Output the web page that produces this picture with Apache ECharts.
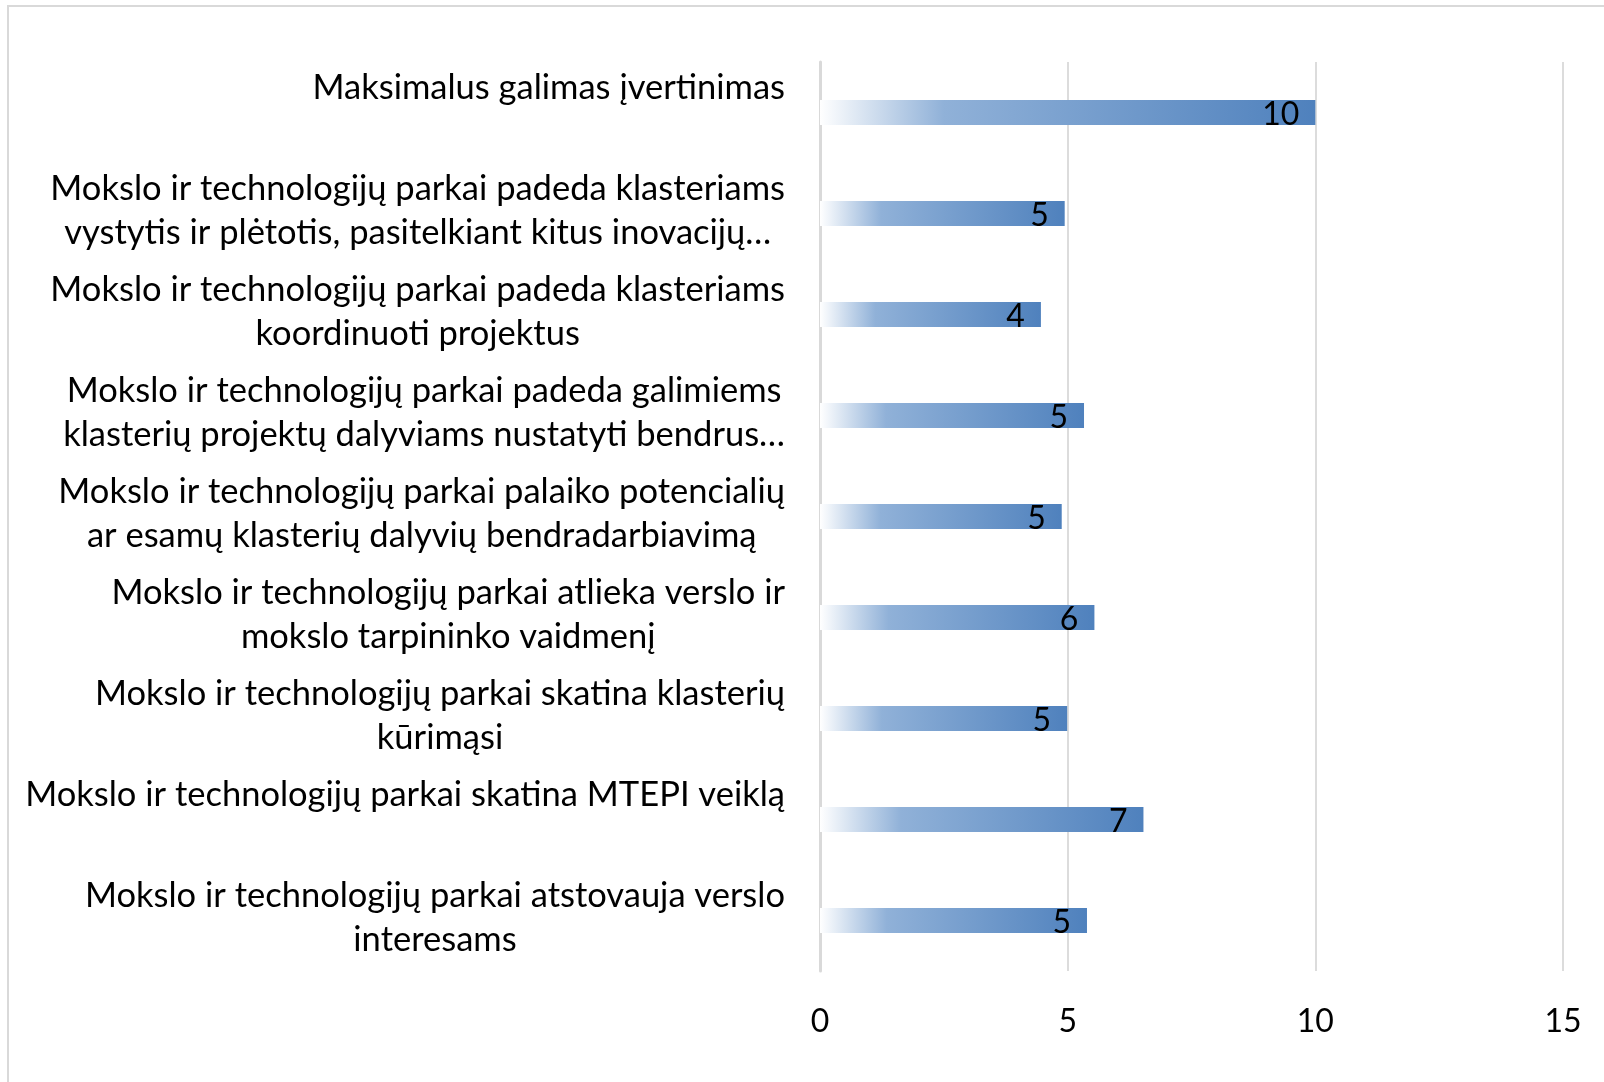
<!DOCTYPE html>
<html>
<head>
<meta charset="utf-8">
<script src="https://cdn.jsdelivr.net/npm/echarts@6/dist/echarts.min.js"></script>
<style>
html,body{margin:0;padding:0;background:#fff;}
#chart{width:1604px;height:1082px;}
</style>
</head>
<body>
<div id="chart"></div>
<script>
var categories = [
  "Maksimalus galimas įvertinimas",
  "Mokslo ir technologijų parkai padeda klasteriams\nvystytis ir plėtotis, pasitelkiant kitus inovacijų…",
  "Mokslo ir technologijų parkai padeda klasteriams\nkoordinuoti projektus",
  "Mokslo ir technologijų parkai padeda galimiems\nklasterių projektų dalyviams nustatyti bendrus…",
  "Mokslo ir technologijų parkai palaiko potencialių\nar esamų klasterių dalyvių bendradarbiavimą",
  "Mokslo ir technologijų parkai atlieka verslo ir\nmokslo tarpininko vaidmenį",
  "Mokslo ir technologijų parkai skatina klasterių\nkūrimąsi",
  "Mokslo ir technologijų parkai skatina MTEPI veiklą",
  "Mokslo ir technologijų parkai atstovauja verslo\ninteresams"
];
var values = [10, 4.94, 4.46, 5.33, 4.88, 5.54, 4.99, 6.53, 5.39];
var xTicks = [0, 5, 10, 15];

var FONT = 'Lato';
var FS_CAT = 34.5;
var FS = 32;

var chart = echarts.init(document.getElementById('chart'));
chart.setOption({
  backgroundColor: '#ffffff',
  animation: false,
  graphic: [{
    type: 'rect',
    shape: {x: 8, y: 6, width: 2000, height: 2000},
    style: {fill: 'none', stroke: '#d9d9d9', lineWidth: 2},
    silent: true,
    z: -1
  }],
  grid: {left: 820, right: 41, top: 62, bottom: 111, containLabel: false},
  xAxis: {
    type: 'value',
    min: xTicks[0],
    max: xTicks[xTicks.length - 1],
    interval: 5,
    axisLine: {show: false},
    axisTick: {show: false},
    splitLine: {show: true, lineStyle: {color: '#d0d0d0', width: 1.5}},
    axisLabel: {color: '#000', fontFamily: FONT, fontSize: FS, margin: 35}
  },
  yAxis: {
    type: 'category',
    inverse: true,
    data: categories,
    axisLine: {show: true, lineStyle: {color: '#d9d9d9', width: 3}},
    axisTick: {show: false},
    axisLabel: {
      margin: 35,
      align: 'right',
      padding: [0, 0, 6, 0],
      formatter: function (v) {
        var lines = v.split('\n');
        if (lines.length === 1) lines.push('\u00a0');
        return lines.map(function (l) { return '{c|' + l + '}'; }).join('\n');
      },
      rich: {
        c: {align: 'center', color: '#000', fontFamily: FONT, fontSize: FS_CAT, lineHeight: 44}
      }
    }
  },
  series: [{
    type: 'bar',
    data: values,
    barWidth: 25,
    itemStyle: {
      color: {
        type: 'linear', x: 0, y: 0, x2: 1, y2: 0,
        colorStops: [
          {offset: 0, color: '#ffffff'},
          {offset: 0.25, color: '#90b1d8'},
          {offset: 1, color: '#4f81bd'}
        ]
      }
    },
    label: {
      show: true,
      position: 'insideRight',
      distance: 16,
      offset: [0, 2],
      color: '#000',
      fontFamily: FONT,
      fontSize: FS,
      formatter: function (p) { return Math.round(p.value); }
    }
  }]
});
</script>
</body>
</html>
